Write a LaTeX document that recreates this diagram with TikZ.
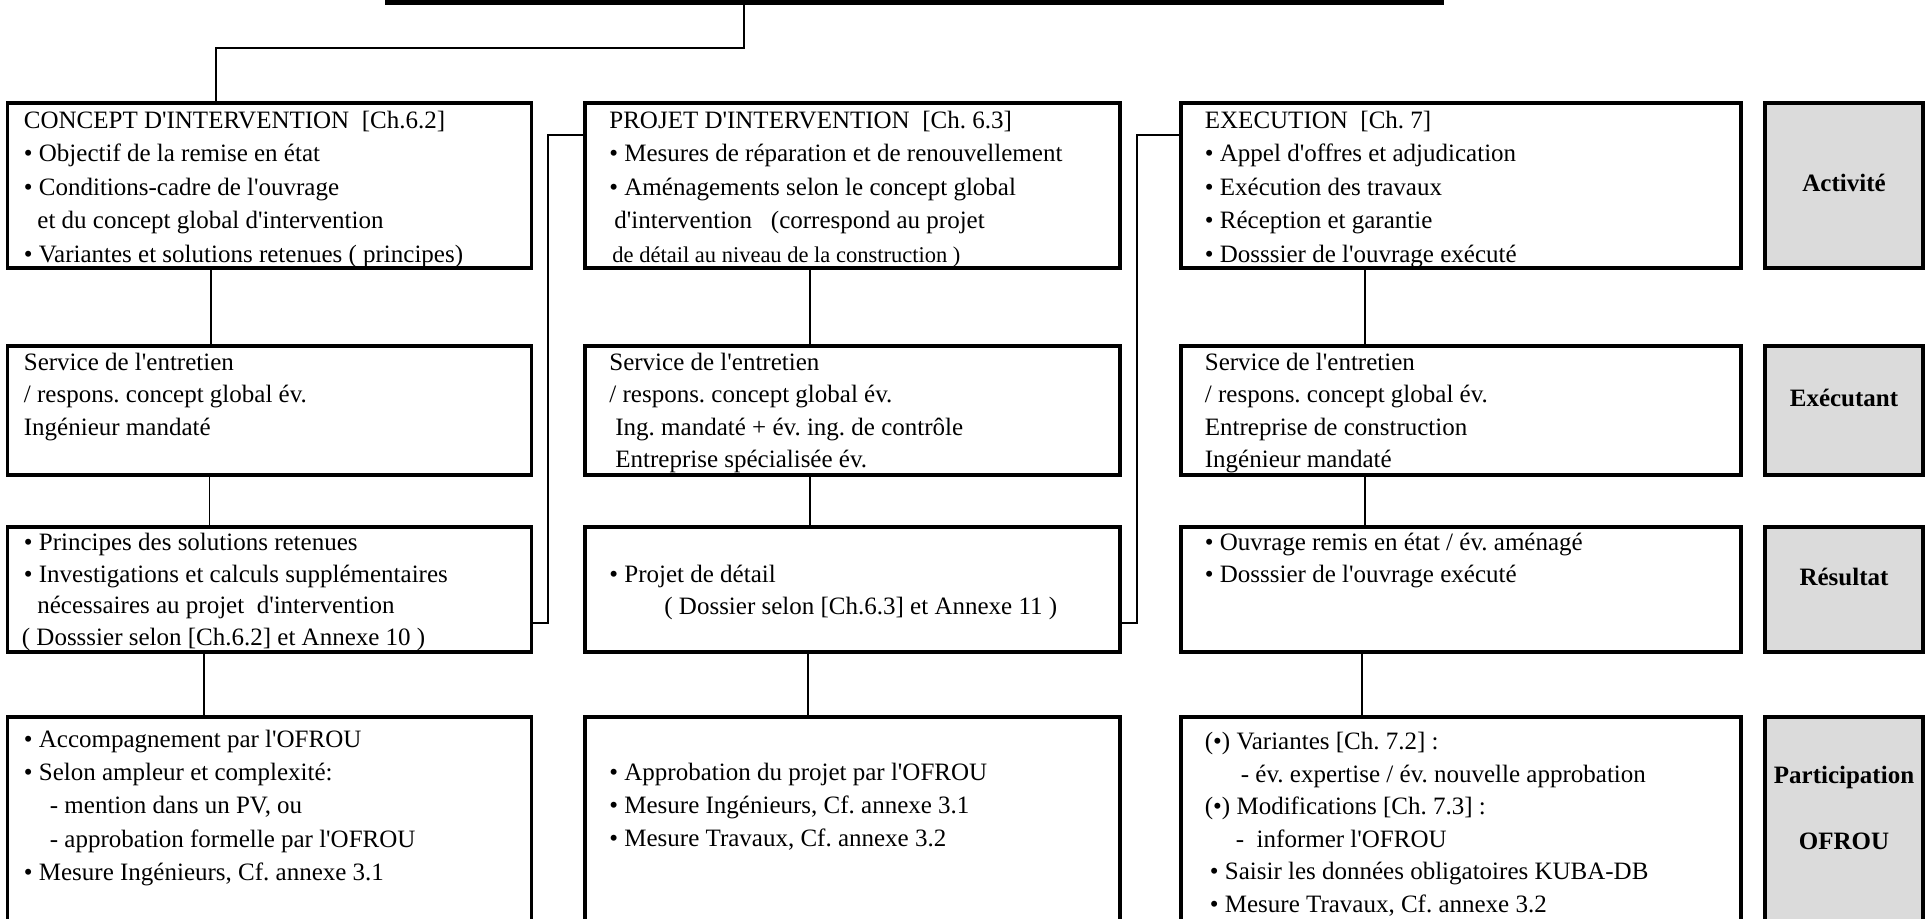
\documentclass[tikz,border=0pt]{standalone}
\usepackage{fontspec}
\setmainfont{Liberation Serif}[Ligatures=TeXOff]
\frenchspacing
\tikzset{
  cadre/.style={draw, line width=1.6pt, anchor=north west, inner sep=0pt, outer sep=0pt},
  rubrique/.style={cadre, fill=gray!28},
  lien/.style={line width=0.7pt},
  texte/.style={anchor=north west, inner sep=0pt, align=left},
  titrerub/.style={anchor=base, inner sep=0pt, font=\fontsize{12.5}{16.5}\selectfont\bfseries}
}

\begin{document}
\begin{tikzpicture}[x=0.5pt, y=-0.5pt]
\clip (0,0) rectangle (1926,919);

% titre
\node[fill=black, anchor=south west, inner sep=0pt, minimum width=529.5pt, minimum height=10pt] (titre) at (385,5) {};

% boites
\node[cadre, minimum width=262pt, minimum height=82.5pt] (concept) at (7.5,103) {};
\node[cadre, minimum width=267.5pt, minimum height=82.5pt] (projet) at (585,103) {};
\node[cadre, minimum width=280pt, minimum height=82.5pt] (execution) at (1181,103) {};
\node[rubrique, minimum width=79pt, minimum height=82.5pt] (gActivite) at (1765,103) {};

\node[cadre, minimum width=262pt, minimum height=64.5pt] (acteur1) at (7.5,346) {};
\node[cadre, minimum width=267.5pt, minimum height=64.5pt] (acteur2) at (585,346) {};
\node[cadre, minimum width=280pt, minimum height=64.5pt] (acteur3) at (1181,346) {};
\node[rubrique, minimum width=79pt, minimum height=64.5pt] (gExecutant) at (1765,346) {};

\node[cadre, minimum width=262pt, minimum height=62.5pt] (resultat1) at (7.5,527) {};
\node[cadre, minimum width=267.5pt, minimum height=62.5pt] (resultat2) at (585,527) {};
\node[cadre, minimum width=280pt, minimum height=62.5pt] (resultat3) at (1181,527) {};
\node[rubrique, minimum width=79pt, minimum height=62.5pt] (gResultat) at (1765,527) {};

\node[cadre, minimum width=262pt, minimum height=150pt] (ofrou1) at (7.5,717) {};
\node[cadre, minimum width=267.5pt, minimum height=150pt] (ofrou2) at (585,717) {};
\node[cadre, minimum width=280pt, minimum height=150pt] (ofrou3) at (1181,717) {};
\node[rubrique, minimum width=79pt, minimum height=150pt] (gOfrou) at (1765,717) {};

% textes ligne 1
\node[texte, font=\fontsize{12.5}{16.75}\selectfont] (tConcept) at (23.5,104.5)
  {\strut CONCEPT D'INTERVENTION\ \ [Ch.6.2]\\
   • Objectif de la remise en état\\
   • Conditions-cadre de l'ouvrage\\
   \hspace*{6.75pt}et du concept global d'intervention\\
   • Variantes et solutions retenues ( principes)};
\node[texte, font=\fontsize{12.5}{16.75}\selectfont] (tProjet) at (609,104.5)
  {\strut PROJET D'INTERVENTION\ \ [Ch. 6.3]\\
   • Mesures de réparation et de renouvellement\\
   • Aménagements selon le concept global\\
   \hspace*{2.5pt}d'intervention\ \ \ (correspond au projet\\
   \hspace*{1.5pt}{\fontsize{11.25}{16.75}\selectfont de détail au niveau de la construction )}};
\node[texte, font=\fontsize{12.5}{16.75}\selectfont] (tExecution) at (1204.5,104.5)
  {\strut EXECUTION\ \ [Ch. 7]\\
   • Appel d'offres et adjudication\\
   • Exécution des travaux\\
   • Réception et garantie\\
   • Dosssier de l'ouvrage exécuté};

% textes ligne 2
\node[texte, font=\fontsize{12.5}{16.25}\selectfont] (tActeur1) at (23.5,347.3)
  {\strut Service de l'entretien\\
   / respons. concept global év.\\
   Ingénieur mandaté};
\node[texte, font=\fontsize{12.5}{16.25}\selectfont] (tActeur2) at (609,347.3)
  {\strut Service de l'entretien\\
   / respons. concept global év.\\
   \hspace*{3pt}Ing. mandaté + év. ing. de contrôle\\
   \hspace*{3pt}Entreprise spécialisée év.};
\node[texte, font=\fontsize{12.5}{16.25}\selectfont] (tActeur3) at (1204.5,347.3)
  {\strut Service de l'entretien\\
   / respons. concept global év.\\
   Entreprise de construction\\
   Ingénieur mandaté};

% textes ligne 3
\node[texte, font=\fontsize{12.5}{15.85}\selectfont] (tResultat1) at (21.5,527.8)
  {\strut \hspace*{1pt}• Principes des solutions retenues\\
   \hspace*{1pt}• Investigations et calculs supplémentaires\\
   \hspace*{7.75pt}nécessaires au projet\ \ d'intervention\\
   ( Dosssier selon [Ch.6.2] et Annexe 10 )};
\node[texte, font=\fontsize{12.5}{15.85}\selectfont] (tResultat2) at (609,559.8)
  {\strut • Projet de détail\\
   \hspace*{27.5pt}( Dossier selon [Ch.6.3] et Annexe 11 )};
\node[texte, font=\fontsize{12.5}{15.85}\selectfont] (tResultat3) at (1204.5,527.8)
  {\strut • Ouvrage remis en état / év. aménagé\\
   • Dosssier de l'ouvrage exécuté};

% textes ligne 4
\node[texte, font=\fontsize{12.5}{16.6}\selectfont] (tOfrou1) at (23.5,723.8)
  {\strut • Accompagnement par l'OFROU\\
   • Selon ampleur et complexité:\\
   \hspace*{13pt}- mention dans un PV, ou\\
   \hspace*{13pt}- approbation formelle par l'OFROU\\
   • Mesure Ingénieurs, Cf. annexe 3.1};
\node[texte, font=\fontsize{12.5}{16.6}\selectfont] (tOfrou2) at (609,756.8)
  {\strut • Approbation du projet par l'OFROU\\
   • Mesure Ingénieurs, Cf. annexe 3.1\\
   • Mesure Travaux, Cf. annexe 3.2};
\node[texte, font=\fontsize{12.5}{16.3}\selectfont] (tOfrou3) at (1204.5,726.2)
  {\strut (•) Variantes [Ch. 7.2] :\\
   \hspace*{18pt}- év. expertise / év. nouvelle approbation\\
   (•) Modifications [Ch. 7.3] :\\
   \hspace*{15.5pt}-\ \ informer l'OFROU\\
   \hspace*{2.5pt}• Saisir les données obligatoires KUBA-DB\\
   \hspace*{2.5pt}• Mesure Travaux, Cf. annexe 3.2};

% rubriques
\node[titrerub] (lActivite) at (1844,192) {Activité};
\node[titrerub] (lExecutant) at (1844,407) {Exécutant};
\node[titrerub] (lResultat) at (1844,585) {Résultat};
\node[titrerub] (lParticipation) at (1844,783) {Participation};
\node[titrerub] (lOfrou) at (1844,849) {OFROU};

% liaisons
\draw[lien] (titre.south -| 744,0) |- (216,48) -- (concept.north -| 216,0);

\draw[lien] (concept.south -| 211,0) -- (acteur1.north -| 211,0);
\draw[lien] (acteur1.south -| 209.5,0) -- (resultat1.north -| 209.5,0);
\draw[lien] (resultat1.south -| 204,0) -- (ofrou1.north -| 204,0);

\draw[lien] (projet.south -| 810,0) -- (acteur2.north -| 810,0);
\draw[lien] (acteur2.south -| 810,0) -- (resultat2.north -| 810,0);
\draw[lien] (resultat2.south -| 808,0) -- (ofrou2.north -| 808,0);

\draw[lien] (execution.south -| 1365,0) -- (acteur3.north -| 1365,0);
\draw[lien] (acteur3.south -| 1365,0) -- (resultat3.north -| 1365,0);
\draw[lien] (resultat3.south -| 1362,0) -- (ofrou3.north -| 1362,0);

\draw[lien] (projet.west |- 0,135) -| (548,623) -- (resultat1.east |- 0,623);
\draw[lien] (execution.west |- 0,135) -| (1137,623) -- (resultat2.east |- 0,623);

\end{tikzpicture}
\end{document}
